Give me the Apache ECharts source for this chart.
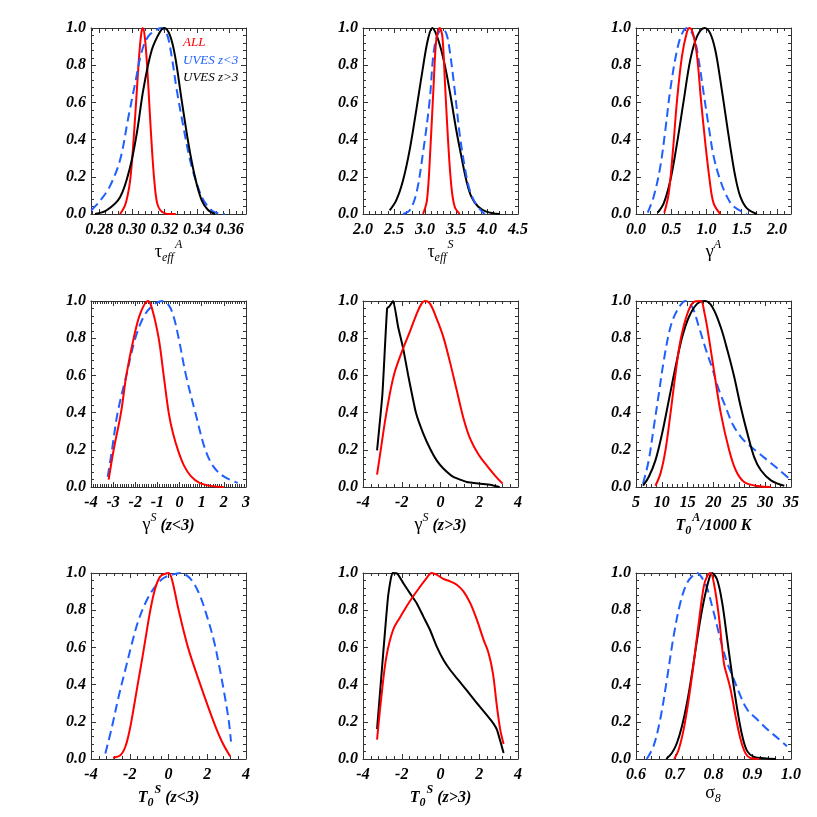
<!DOCTYPE html>
<html><head><meta charset="utf-8">
<script src="https://cdn.jsdelivr.net/npm/echarts@6/dist/echarts.min.js"></script>
<style>html,body{margin:0;padding:0;background:#fff}#c{width:817px;height:817px}</style>
</head><body><div id="c"></div>
<script>
// ---------- DATA ----------
// Panel 1: tau_eff^A
const tauA_all = [[0.2928,0],[0.2960,0.05],[0.2985,0.15],[0.3000,0.27],[0.3015,0.45],[0.3030,0.65],[0.3045,0.85],[0.3058,0.97],[0.3067,1.0],[0.3080,0.95],[0.3095,0.78],[0.3110,0.55],[0.3125,0.33],[0.3140,0.16],[0.3155,0.06],[0.3175,0.02],[0.3200,0.005],[0.3230,0],[0.3270,0]];
const tauA_lo  = [[0.2752,0.02],[0.2805,0.07],[0.2866,0.15],[0.2928,0.29],[0.2979,0.52],[0.3020,0.70],[0.3060,0.87],[0.3101,0.955],[0.3152,0.99],[0.3179,1.0],[0.3214,0.97],[0.3244,0.85],[0.3275,0.67],[0.3316,0.47],[0.3357,0.29],[0.3398,0.165],[0.3439,0.075],[0.3500,0.013],[0.3571,0]];
const tauA_hi  = [[0.2775,0],[0.2846,0.02],[0.2928,0.09],[0.2989,0.25],[0.3030,0.43],[0.3071,0.67],[0.3122,0.88],[0.3173,0.98],[0.3200,1.0],[0.3234,0.96],[0.3265,0.85],[0.3306,0.61],[0.3347,0.38],[0.3387,0.20],[0.3428,0.075],[0.3469,0.02],[0.3510,0]];
// Panel 2: tau_eff^S
const tauS_all = [[2.968,0],[3.032,0.075],[3.086,0.345],[3.140,0.70],[3.183,0.94],[3.237,1.0],[3.280,0.955],[3.323,0.70],[3.371,0.40],[3.425,0.15],[3.478,0.04],[3.559,0]];
const tauS_lo  = [[2.645,0],[2.753,0.02],[2.860,0.11],[2.968,0.33],[3.075,0.61],[3.140,0.87],[3.210,0.97],[3.290,0.99],[3.344,0.97],[3.398,0.88],[3.478,0.67],[3.559,0.43],[3.640,0.255],[3.720,0.13],[3.828,0.05],[3.962,0]];
const tauS_hi  = [[2.430,0.02],[2.538,0.075],[2.645,0.18],[2.753,0.345],[2.860,0.56],[2.968,0.79],[3.048,0.94],[3.118,1.0],[3.183,0.965],[3.263,0.88],[3.344,0.76],[3.425,0.61],[3.505,0.45],[3.586,0.31],[3.667,0.18],[3.747,0.093],[3.855,0.04],[3.989,0.013],[4.204,0]];
// Panel 3: gamma^A
const gA_all = [[0.402,0.007],[0.464,0.11],[0.525,0.345],[0.582,0.61],[0.653,0.85],[0.724,0.98],[0.762,1.0],[0.809,0.97],[0.866,0.85],[0.923,0.61],[0.984,0.38],[1.046,0.18],[1.102,0.057],[1.197,0]];
const gA_lo  = [[0.166,0.007],[0.251,0.093],[0.345,0.255],[0.416,0.45],[0.487,0.67],[0.582,0.88],[0.653,0.97],[0.724,1.0],[0.818,0.955],[0.889,0.83],[0.960,0.65],[1.032,0.47],[1.102,0.31],[1.197,0.18],[1.292,0.093],[1.386,0.04],[1.575,0]];
const gA_hi  = [[0.308,0.007],[0.393,0.057],[0.487,0.18],[0.582,0.38],[0.677,0.61],[0.771,0.83],[0.866,0.955],[0.975,1.0],[1.055,0.97],[1.126,0.88],[1.197,0.72],[1.268,0.54],[1.339,0.36],[1.410,0.20],[1.481,0.093],[1.575,0.03],[1.718,0]];
// Panel 4: gamma^S (z<3)
const gS1_all = [[-3.202,0.04],[-2.976,0.20],[-2.645,0.40],[-2.404,0.60],[-2.073,0.80],[-1.772,0.934],[-1.426,1.0],[-1.245,0.96],[-0.944,0.80],[-0.718,0.60],[-0.492,0.40],[-0.300,0.29],[-0.050,0.19],[0.200,0.115],[0.500,0.06],[0.900,0.022],[1.400,0.006],[1.991,0]];
const gS1_lo  = [[-3.247,0.054],[-3.052,0.20],[-2.796,0.40],[-2.404,0.60],[-1.998,0.80],[-1.622,0.915],[-1.245,0.973],[-0.794,1.0],[-0.492,0.978],[-0.267,0.915],[-0.041,0.80],[0.290,0.60],[0.712,0.40],[1.163,0.20],[1.540,0.108],[1.991,0.057],[2.624,0.022]];
// Panel 5: gamma^S (z>3)
const gS2_all = [[-3.274,0.066],[-3.084,0.20],[-2.790,0.40],[-2.410,0.60],[-1.930,0.745],[-1.580,0.835],[-1.235,0.93],[-0.976,0.986],[-0.803,1.0],[-0.544,0.986],[-0.199,0.905],[0.147,0.806],[0.493,0.67],[0.838,0.52],[1.184,0.37],[1.529,0.26],[1.961,0.175],[2.393,0.115],[2.825,0.06],[3.205,0.018]];
const gS2_hi  = [[-3.274,0.197],[-2.998,0.50],[-2.756,0.96],[-2.652,0.97],[-2.445,1.0],[-2.186,0.86],[-1.927,0.745],[-1.667,0.60],[-1.270,0.40],[-0.890,0.287],[-0.510,0.20],[-0.199,0.143],[0.147,0.099],[0.665,0.054],[1.356,0.027],[2.048,0.018],[2.566,0.0125],[3.050,0]];
// Panel 6: T0^A / 1000 K
const T0A_all = [[8.76,0.007],[9.73,0.072],[10.70,0.197],[11.67,0.394],[12.65,0.61],[13.62,0.79],[14.92,0.93],[16.21,0.995],[17.51,1.0],[18.28,0.932],[19.12,0.80],[20.23,0.60],[21.39,0.40],[23.01,0.20],[24.31,0.09],[25.93,0.027],[28.52,0.005],[31.11,0]];
const T0A_lo  = [[6.36,0.018],[7.46,0.143],[8.43,0.32],[9.41,0.50],[10.38,0.68],[11.67,0.86],[12.97,0.95],[14.59,1.0],[15.88,0.968],[17.18,0.86],[18.47,0.744],[19.77,0.637],[21.07,0.52],[22.36,0.43],[23.66,0.34],[25.28,0.27],[26.90,0.224],[28.52,0.188],[30.47,0.143],[32.41,0.099],[34.67,0.045]];
const T0A_hi  = [[6.36,0.007],[7.46,0.054],[8.76,0.143],[10.05,0.287],[11.35,0.466],[12.65,0.645],[13.94,0.806],[15.24,0.914],[16.86,0.986],[18.35,1.0],[19.77,0.968],[21.39,0.86],[22.69,0.735],[23.98,0.595],[25.28,0.43],[26.57,0.287],[27.87,0.161],[29.17,0.09],[31.11,0.036],[33.70,0.007]];
// Panel 7: T0^S (z<3)
const T0S1_all = [[-2.865,0.007],[-2.486,0.02],[-2.228,0.066],[-2.004,0.156],[-1.798,0.273],[-1.591,0.40],[-1.368,0.533],[-1.196,0.641],[-0.938,0.80],[-0.680,0.919],[-0.422,0.982],[-0.163,0.996],[0.008,1.0],[0.181,0.964],[0.525,0.80],[1.006,0.60],[1.643,0.40],[2.331,0.20],[2.761,0.093],[3.191,0.013]];
const T0S1_lo  = [[-3.260,0.03],[-2.916,0.174],[-2.572,0.336],[-2.228,0.48],[-1.884,0.623],[-1.540,0.749],[-1.110,0.856],[-0.680,0.928],[-0.249,0.973],[0.181,0.991],[0.611,1.0],[0.955,0.986],[1.299,0.946],[1.643,0.874],[1.987,0.767],[2.331,0.641],[2.589,0.515],[2.847,0.372],[3.105,0.21],[3.226,0.093]];
// Panel 8: T0^S (z>3)
const T0S2_all = [[-3.274,0.104],[-3.050,0.337],[-2.790,0.552],[-2.445,0.695],[-2.099,0.760],[-1.754,0.820],[-1.408,0.875],[-1.063,0.925],[-0.717,0.973],[-0.458,1.0],[-0.199,0.991],[0.147,0.968],[0.493,0.955],[0.838,0.937],[1.184,0.901],[1.529,0.839],[1.875,0.749],[2.220,0.642],[2.479,0.57],[2.704,0.462],[2.911,0.283],[3.084,0.158],[3.257,0.081]];
const T0S2_hi  = [[-3.274,0.161],[-2.998,0.516],[-2.704,0.875],[-2.479,1.0],[-2.220,0.996],[-1.927,0.946],[-1.581,0.892],[-1.235,0.839],[-0.890,0.767],[-0.544,0.695],[-0.199,0.606],[0.147,0.534],[0.493,0.48],[0.838,0.435],[1.184,0.391],[1.529,0.346],[1.875,0.301],[2.307,0.247],[2.652,0.202],[2.911,0.158],[3.257,0.032]];
// Panel 9: sigma_8
const s8_all = [[0.6987,0],[0.7100,0.05],[0.7229,0.158],[0.7359,0.319],[0.7489,0.516],[0.7619,0.731],[0.7749,0.928],[0.7835,0.982],[0.7922,1.0],[0.8009,0.946],[0.8139,0.767],[0.8268,0.516],[0.8355,0.444],[0.8442,0.373],[0.8571,0.229],[0.8701,0.104],[0.8831,0.029],[0.8961,0.004],[0.9177,0]];
const s8_lo  = [[0.6277,0],[0.6450,0.068],[0.6623,0.211],[0.6797,0.427],[0.6970,0.659],[0.7143,0.839],[0.7316,0.946],[0.7489,0.991],[0.7576,1.0],[0.7706,0.973],[0.7835,0.919],[0.7965,0.821],[0.8095,0.713],[0.8225,0.606],[0.8355,0.516],[0.8528,0.427],[0.8701,0.337],[0.8874,0.265],[0.9134,0.211],[0.9394,0.158],[0.9654,0.113],[0.9896,0.068]];
const s8_hi  = [[0.6779,0],[0.6926,0.032],[0.7056,0.086],[0.7186,0.176],[0.7316,0.301],[0.7446,0.462],[0.7576,0.642],[0.7706,0.803],[0.7835,0.928],[0.7965,1.0],[0.8095,0.964],[0.8225,0.839],[0.8355,0.642],[0.8485,0.444],[0.8615,0.265],[0.8745,0.122],[0.8874,0.041],[0.9048,0.011],[0.9307,0.004],[0.9610,0]];

// Tick labels
const yTicks = [0.0, 0.2, 0.4, 0.6, 0.8, 1.0];
const xTicks1 = [0.28, 0.30, 0.32, 0.34, 0.36];
const xTicks2 = [2.0, 2.5, 3.0, 3.5, 4.0, 4.5];
const xTicks3 = [0.0, 0.5, 1.0, 1.5, 2.0];
const xTicks4 = [-4, -3, -2, -1, 0, 1, 2, 3];
const xTicks5 = [-4, -2, 0, 2, 4];
const xTicks6 = [5, 10, 15, 20, 25, 30, 35];
const xTicks7 = [-4, -2, 0, 2, 4];
const xTicks8 = [-4, -2, 0, 2, 4];
const xTicks9 = [0.6, 0.7, 0.8, 0.9, 1.0];
const seriesNames = ['ALL', 'UVES z<3', 'UVES z>3'];
const axisTitles = [
  '{g|τ}{sub|eff}{sup|A}',
  '{g|τ}{sub|eff}{sup|S}',
  '{g|γ}{sup|A}',
  '{g|γ}{sup|S}{b| (z<3)}',
  '{g|γ}{sup|S}{b| (z>3)}',
  '{b|T}{bsub|0}{bsup|A}{b|/1000 K}',
  '{b|T}{bsub|0}{bsup|S}{b| (z<3)}',
  '{b|T}{bsub|0}{bsup|S}{b| (z>3)}',
  '{g|σ}{sub|8}'
];

// ---------- LAYOUT / STYLE ----------
const COLORS = {'ALL': '#ff0000', 'UVES z<3': '#1f5fff', 'UVES z>3': '#000000'};
const GL = [91, 363, 636], GT = [28, 301, 573], GW = 155, GH = 186;
const panels = [
  {xr:[0.275,0.37], xt:xTicks1, minor:0.004, dec:2, s:[[tauA_all,'ALL'],[tauA_lo,'UVES z<3'],[tauA_hi,'UVES z>3']]},
  {xr:[2.0,4.5], xt:xTicks2, minor:0.1, dec:1, s:[[tauS_hi,'UVES z>3'],[tauS_lo,'UVES z<3'],[tauS_all,'ALL']]},
  {xr:[0,2.2], xt:xTicks3, minor:0.1, dec:1, s:[[gA_hi,'UVES z>3'],[gA_lo,'UVES z<3'],[gA_all,'ALL']]},
  {xr:[-4,3], xt:xTicks4, minor:0.1, dec:0, s:[[gS1_lo,'UVES z<3'],[gS1_all,'ALL']]},
  {xr:[-4,4], xt:xTicks5, minor:0.4, dec:0, s:[[gS2_hi,'UVES z>3'],[gS2_all,'ALL']], sharp:'UVES z>3'},
  {xr:[5,35], xt:xTicks6, minor:1, dec:0, s:[[T0A_lo,'UVES z<3'],[T0A_hi,'UVES z>3'],[T0A_all,'ALL']]},
  {xr:[-4,4], xt:xTicks7, minor:0.4, dec:0, s:[[T0S1_lo,'UVES z<3'],[T0S1_all,'ALL']]},
  {xr:[-4,4], xt:xTicks8, minor:0.4, dec:0, s:[[T0S2_hi,'UVES z>3'],[T0S2_all,'ALL']], sharp:'UVES z>3'},
  {xr:[0.6,1.0], xt:xTicks9, minor:0.02, dec:1, s:[[s8_lo,'UVES z<3'],[s8_hi,'UVES z>3'],[s8_all,'ALL']]}
];
const nameGaps = [21, 17, 24];
const FONT = 'Liberation Serif';
const lblStyle = {fontFamily: FONT, fontStyle: 'italic', fontWeight: 'bold', fontSize: 16, color: '#000'};
const rich = {
  g: {fontFamily: FONT, fontSize: 18, color: '#000', verticalAlign: 'bottom', padding: [0,0,3,0]},
  b: {fontFamily: FONT, fontStyle: 'italic', fontWeight: 'bold', fontSize: 16, color: '#000', verticalAlign: 'bottom', padding: [0,0,3,0]},
  sub: {fontFamily: FONT, fontStyle: 'italic', fontSize: 12, color: '#000', verticalAlign: 'bottom', padding: [0,1,0,0]},
  sup: {fontFamily: FONT, fontStyle: 'italic', fontSize: 12, color: '#000', verticalAlign: 'bottom', padding: [0,0,13,0]},
  bsub: {fontFamily: FONT, fontStyle: 'italic', fontWeight: 'bold', fontSize: 12, color: '#000', verticalAlign: 'bottom', padding: [0,1,0,0]},
  bsup: {fontFamily: FONT, fontStyle: 'italic', fontWeight: 'bold', fontSize: 12, color: '#000', verticalAlign: 'bottom', padding: [0,0,13,0]}
};

function minorTicks(range, step, majors) {
  const out = [];
  const n0 = Math.ceil(range[0] / step - 1e-6), n1 = Math.floor(range[1] / step + 1e-6);
  for (let n = n0; n <= n1; n++) {
    const v = +(n * step).toFixed(6);
    if (!majors.some(m => Math.abs(m - v) < step * 1e-3)) out.push(v);
  }
  return out;
}
const LINE = '#333';
function axis(gi, pos, range, ticks, len, showLine, label) {
  const a = {
    type: 'value', gridIndex: gi, position: pos, min: range[0], max: range[1],
    axisLine: {show: showLine, onZero: false, lineStyle: {color: LINE, width: 1}},
    axisTick: {show: true, inside: true, length: len, customValues: ticks, lineStyle: {color: LINE, width: 1}},
    axisLabel: {show: false}, splitLine: {show: false}, minorTick: {show: false}
  };
  if (label) Object.assign(a, label);
  return a;
}

const grids = [], xAxes = [], yAxes = [], series = [];
panels.forEach((p, i) => {
  const r = Math.floor(i / 3), c = i % 3;
  grids.push({left: GL[c], top: GT[r], width: GW, height: GH, outerBoundsMode: 'none'});
  const xi = xAxes.length, yi = yAxes.length;
  const xMin = minorTicks(p.xr, p.minor, p.xt);
  const yMin = minorTicks([0, 1], 0.04, yTicks);
  xAxes.push(axis(i, 'bottom', p.xr, p.xt, 5, true, {
    axisLabel: {show: true, customValues: p.xt, margin: 8, formatter: v => v.toFixed(p.dec), ...lblStyle},
    name: axisTitles[i], nameLocation: 'middle', nameGap: nameGaps[r],
    nameTextStyle: {rich: rich, fontFamily: FONT, fontSize: 16, color: '#000'}
  }));
  xAxes.push(axis(i, 'bottom', p.xr, xMin, 3, false));
  xAxes.push(axis(i, 'top', p.xr, p.xt, 5, true));
  xAxes.push(axis(i, 'top', p.xr, xMin, 3, false));
  yAxes.push(axis(i, 'left', [0, 1], yTicks, 5, true, {
    axisLabel: {show: true, customValues: yTicks, margin: 5, formatter: v => v.toFixed(1), ...lblStyle}
  }));
  yAxes.push(axis(i, 'left', [0, 1], yMin, 3, false));
  yAxes.push(axis(i, 'right', [0, 1], yTicks, 5, true));
  yAxes.push(axis(i, 'right', [0, 1], yMin, 3, false));
  p.s.forEach(([data, name]) => {
    const dashed = name === 'UVES z<3';
    series.push({
      type: 'line', name: name, data: data, xAxisIndex: xi, yAxisIndex: yi,
      showSymbol: false, symbol: 'none', smooth: (p.sharp === name) ? 0.15 : 0.35,
      clip: true, animation: false,
      lineStyle: {color: COLORS[name], width: 2, type: dashed ? [9, 5] : 'solid'},
      itemStyle: {color: COLORS[name]}
    });
  });
});

const chart = echarts.init(document.getElementById('c'), null, {renderer: 'canvas'});
chart.setOption({
  backgroundColor: '#ffffff',
  animation: false,
  grid: grids, xAxis: xAxes, yAxis: yAxes, series: series,
  legend: {
    left: 173, top: 31, orient: 'vertical', icon: 'none', itemWidth: 0, itemHeight: 14, itemGap: 4,
    selectedMode: false,
    textStyle: {fontFamily: FONT, fontStyle: 'italic', fontSize: 13},
    data: seriesNames.map(n => ({name: n, textStyle: {color: COLORS[n]}}))
  }
});
</script></body></html>
